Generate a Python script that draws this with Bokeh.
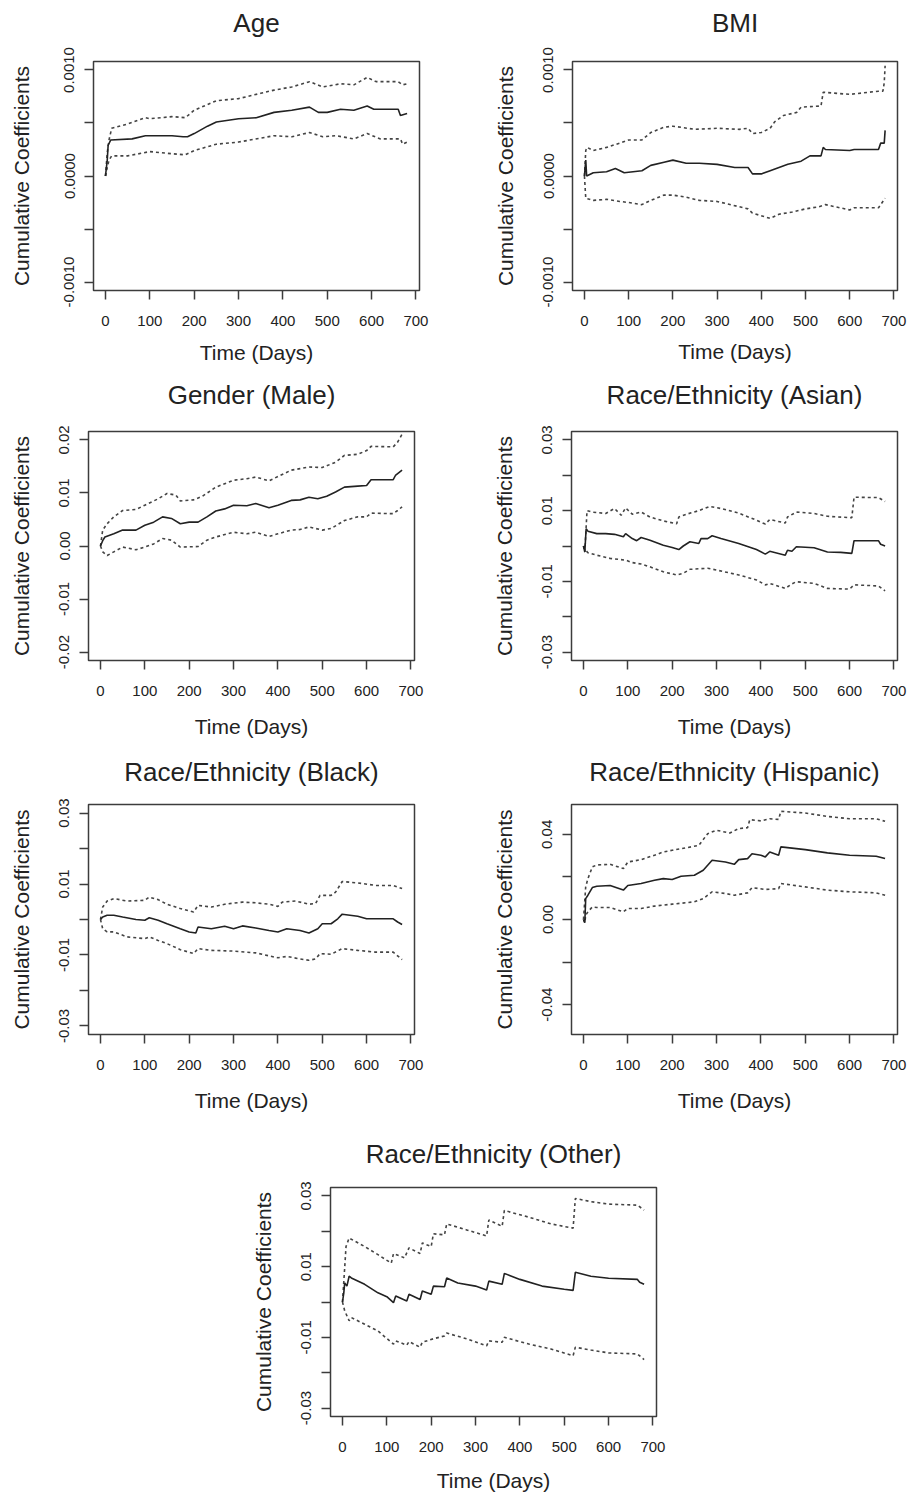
import math
from bokeh.plotting import figure
from bokeh.models import Range1d, FixedTicker, Spacer, LinearAxis
from bokeh.layouts import row, column
from bokeh.embed import file_html
from bokeh.resources import INLINE

FONT = "Liberation Sans"

# ---------------- data (time in days, cumulative coefficient) ----------------
X_TICKS = [0, 100, 200, 300, 400, 500, 600, 700]

AGE_EST = [(0, 0), (4, 0.00015), (6, 0.00029), (12, 0.00034), (60, 0.00035), (90, 0.00038), (150, 0.00038),
           (175, 0.00037), (185, 0.00037), (200, 0.0004), (230, 0.00047), (250, 0.00051), (300, 0.00054),
           (340, 0.00055), (380, 0.0006), (420, 0.00062), (460, 0.00065), (480, 0.0006), (500, 0.0006),
           (530, 0.00063), (560, 0.00062), (590, 0.00066), (605, 0.00063), (660, 0.00063), (665, 0.00057),
           (680, 0.00059)]
AGE_UP = [(0, 0), (4, 0.00022), (8, 0.00034), (14, 0.00045), (50, 0.00049), (90, 0.00055), (100, 0.00054),
          (150, 0.00056), (180, 0.00055), (200, 0.00062), (250, 0.00071), (300, 0.00073), (350, 0.00078),
          (380, 0.00081), (420, 0.00084), (460, 0.00089), (490, 0.00084), (530, 0.00087), (560, 0.00086),
          (590, 0.00093), (610, 0.00089), (660, 0.00089), (670, 0.00086), (680, 0.00087)]
AGE_LO = [(0, 0), (4, 0.00008), (8, 0.00015), (14, 0.00019), (50, 0.00019), (100, 0.00023), (150, 0.00021),
          (180, 0.0002), (200, 0.00024), (250, 0.0003), (300, 0.00032), (380, 0.00038), (420, 0.00037),
          (460, 0.00041), (490, 0.00037), (520, 0.00038), (560, 0.00035), (590, 0.0004), (620, 0.00035),
          (665, 0.00035), (670, 0.0003), (680, 0.00032)]

BMI_EST = [(0, 0), (3, 0.00015), (5, 0.0), (20, 0.00003), (50, 0.00004), (70, 0.00007), (90, 0.00003),
           (110, 0.00004), (130, 0.00005), (150, 0.0001), (180, 0.00013), (200, 0.00015), (230, 0.00012),
           (260, 0.00012), (300, 0.00011), (340, 0.00008), (370, 0.00008), (380, 0.00002), (400, 0.00002),
           (420, 0.00005), (440, 0.00008), (460, 0.00011), (490, 0.00014), (510, 0.00019), (535, 0.00019),
           (540, 0.00027), (545, 0.00025), (600, 0.00024), (610, 0.00025), (665, 0.00025), (670, 0.00031),
           (678, 0.00031), (680, 0.00043)]
BMI_UP = [(0, 0), (3, 0.00024), (6, 0.00027), (20, 0.00024), (50, 0.00027), (80, 0.00031), (100, 0.00034),
          (130, 0.00034), (150, 0.00041), (180, 0.00046), (200, 0.00047), (250, 0.00044), (300, 0.00045),
          (350, 0.00044), (370, 0.00045), (380, 0.0004), (400, 0.00041), (420, 0.00045), (430, 0.00051),
          (450, 0.00057), (480, 0.0006), (490, 0.00065), (535, 0.00066), (540, 0.00079), (600, 0.00077),
          (665, 0.0008), (675, 0.0008), (678, 0.00088), (680, 0.00104)]
BMI_LO = [(0, 0), (3, -0.00021), (20, -0.00023), (50, -0.00022), (80, -0.00024), (100, -0.00025),
          (130, -0.00027), (150, -0.00023), (180, -0.00018), (200, -0.00018), (230, -0.0002), (260, -0.00023),
          (300, -0.00024), (350, -0.00029), (370, -0.00031), (380, -0.00035), (420, -0.0004), (440, -0.00036),
          (470, -0.00034), (500, -0.00031), (530, -0.00029), (545, -0.00027), (600, -0.00032), (610, -0.0003),
          (665, -0.0003), (680, -0.00021)]

MALE_EST = [(0, 0), (5, 0.001), (10, 0.0017), (30, 0.0023), (50, 0.003), (80, 0.003), (100, 0.0039),
            (120, 0.0045), (140, 0.0055), (160, 0.0052), (180, 0.0042), (200, 0.0045), (220, 0.0045),
            (240, 0.0055), (260, 0.0066), (280, 0.007), (300, 0.0077), (330, 0.0076), (350, 0.008),
            (380, 0.0072), (400, 0.0077), (430, 0.0086), (450, 0.0087), (470, 0.0092), (490, 0.0089),
            (510, 0.0094), (530, 0.0102), (550, 0.0111), (580, 0.0113), (600, 0.0114), (610, 0.0125),
            (660, 0.0125), (665, 0.0133), (680, 0.0143)]
MALE_UP = [(0, 0), (5, 0.003), (15, 0.0042), (30, 0.0055), (50, 0.0067), (80, 0.0069), (100, 0.0077),
           (130, 0.0089), (150, 0.0099), (170, 0.0096), (180, 0.0085), (210, 0.0087), (230, 0.0094),
           (260, 0.0111), (300, 0.0124), (330, 0.0127), (350, 0.013), (380, 0.0123), (400, 0.0131),
           (430, 0.0143), (450, 0.0146), (470, 0.0149), (500, 0.0148), (530, 0.0158), (550, 0.0171),
           (580, 0.0173), (600, 0.018), (610, 0.0188), (660, 0.0187), (670, 0.0196), (680, 0.0211)]
MALE_LO = [(0, 0), (5, -0.0011), (15, -0.0018), (30, -0.0011), (50, -0.0002), (80, -0.0007), (100, -0.0002),
           (120, 0.0004), (140, 0.0014), (160, 0.0011), (180, -0.0002), (220, -0.0001), (240, 0.0011),
           (260, 0.0017), (300, 0.0026), (330, 0.0023), (350, 0.0026), (380, 0.0018), (400, 0.0023),
           (430, 0.003), (450, 0.0031), (470, 0.0036), (500, 0.003), (520, 0.0033), (550, 0.0048),
           (580, 0.0055), (600, 0.0055), (610, 0.0062), (660, 0.0061), (670, 0.0067), (680, 0.0074)]

ASIAN_EST = [(0, 0), (3, -0.0017), (6, 0.0049), (10, 0.0042), (30, 0.0035), (50, 0.0035), (70, 0.0033),
             (90, 0.0026), (95, 0.0035), (110, 0.0021), (120, 0.0015), (130, 0.0024), (150, 0.0016),
             (180, 0.0002), (200, -0.0004), (215, -0.001), (225, 0.0), (240, 0.0012), (260, 0.0007),
             (265, 0.0021), (280, 0.0021), (290, 0.0029), (310, 0.0021), (350, 0.0007), (390, -0.001),
             (410, -0.0023), (420, -0.0015), (455, -0.0026), (460, -0.0012), (470, -0.0015), (480, -0.0002),
             (520, -0.0005), (550, -0.0017), (580, -0.0018), (605, -0.0021), (610, 0.0015), (665, 0.0015),
             (670, 0.0005), (680, 0.0)]
ASIAN_UP = [(0, 0), (3, -0.0017), (8, 0.01), (20, 0.0096), (50, 0.0092), (70, 0.0106), (85, 0.0087),
            (95, 0.0108), (110, 0.009), (130, 0.0096), (150, 0.0082), (180, 0.0071), (210, 0.0063),
            (215, 0.0082), (240, 0.0093), (260, 0.01), (285, 0.0112), (310, 0.0106), (350, 0.0093),
            (390, 0.0073), (410, 0.0062), (420, 0.0075), (455, 0.0065), (460, 0.0082), (480, 0.0096),
            (520, 0.0092), (550, 0.0084), (605, 0.008), (610, 0.0138), (665, 0.0137), (680, 0.0126)]
ASIAN_LO = [(0, 0), (5, -0.0012), (10, -0.0019), (30, -0.0026), (60, -0.0035), (95, -0.004), (110, -0.0047),
            (130, -0.0051), (150, -0.0059), (180, -0.0073), (210, -0.0082), (225, -0.0077), (240, -0.0066),
            (280, -0.0063), (300, -0.0068), (350, -0.0082), (390, -0.0096), (410, -0.011), (420, -0.0106),
            (455, -0.012), (470, -0.0107), (480, -0.0101), (520, -0.0106), (550, -0.012), (600, -0.0122),
            (610, -0.011), (665, -0.0113), (680, -0.0127)]

BLACK_EST = [(0, 0), (5, 0.0007), (15, 0.0012), (30, 0.0012), (50, 0.0007), (80, 0.0), (100, -0.0002),
             (110, 0.0005), (130, -0.0002), (150, -0.0012), (180, -0.0026), (200, -0.0035), (215, -0.0038),
             (220, -0.0021), (250, -0.0026), (280, -0.0019), (300, -0.0026), (320, -0.0018), (350, -0.0024),
             (380, -0.0031), (400, -0.0035), (420, -0.0026), (450, -0.0031), (470, -0.0038), (490, -0.0026),
             (500, -0.0012), (520, -0.0012), (535, 0.0002), (545, 0.0015), (580, 0.0009), (600, 0.0002),
             (660, 0.0002), (670, -0.0007), (680, -0.0014)]
BLACK_UP = [(0, 0), (5, 0.0035), (15, 0.0052), (30, 0.0059), (60, 0.0052), (100, 0.0054), (110, 0.0063),
            (130, 0.0056), (150, 0.0043), (180, 0.0031), (210, 0.0021), (220, 0.004), (250, 0.0035),
            (280, 0.0043), (320, 0.0049), (350, 0.0047), (380, 0.0043), (400, 0.0037), (410, 0.0049),
            (440, 0.0052), (470, 0.0043), (485, 0.0045), (495, 0.0068), (520, 0.0068), (530, 0.0077),
            (545, 0.0107), (580, 0.0103), (620, 0.0096), (660, 0.0096), (680, 0.0087)]
BLACK_LO = [(0, 0), (5, -0.0026), (15, -0.0035), (30, -0.0035), (60, -0.0049), (100, -0.0054),
            (110, -0.0049), (130, -0.0059), (150, -0.0068), (180, -0.0085), (210, -0.0096), (220, -0.0082),
            (250, -0.0087), (300, -0.0089), (350, -0.0094), (400, -0.0108), (420, -0.0104), (450, -0.0111),
            (470, -0.0115), (485, -0.0111), (495, -0.0096), (520, -0.0098), (545, -0.0082), (580, -0.0087),
            (620, -0.0092), (660, -0.0092), (680, -0.0113)]

HISP_EST = [(0, 0), (3, -0.0015), (5, 0.0098), (10, 0.0114), (20, 0.015), (30, 0.0156), (60, 0.016),
            (90, 0.0138), (100, 0.016), (130, 0.0169), (160, 0.0184), (180, 0.0192), (200, 0.0188),
            (220, 0.0203), (250, 0.0208), (270, 0.0231), (290, 0.0278), (320, 0.027), (340, 0.0259),
            (350, 0.0281), (370, 0.0286), (380, 0.0309), (400, 0.0302), (410, 0.0294), (420, 0.0317),
            (440, 0.0302), (445, 0.0341), (500, 0.0328), (550, 0.0313), (600, 0.0302), (660, 0.0297),
            (680, 0.0286)]
HISP_UP = [(0, 0), (5, 0.0153), (10, 0.0192), (20, 0.0247), (30, 0.0256), (60, 0.0259), (90, 0.0239),
           (100, 0.027), (130, 0.0281), (160, 0.0302), (180, 0.0317), (200, 0.0325), (230, 0.0336),
           (260, 0.0348), (280, 0.0403), (300, 0.0419), (330, 0.0406), (350, 0.0427), (370, 0.0431),
           (375, 0.0469), (400, 0.0463), (420, 0.0473), (440, 0.047), (445, 0.0508), (500, 0.05),
           (550, 0.0484), (600, 0.0473), (660, 0.0473), (680, 0.0461)]
HISP_LO = [(0, 0), (3, -0.0015), (5, 0.002), (10, 0.0036), (20, 0.0059), (30, 0.0056), (60, 0.0056),
           (90, 0.0036), (100, 0.0052), (130, 0.0052), (160, 0.0063), (200, 0.0072), (250, 0.0083),
           (270, 0.0098), (290, 0.013), (320, 0.0122), (340, 0.0114), (370, 0.0125), (380, 0.015),
           (410, 0.0141), (440, 0.0145), (445, 0.0169), (500, 0.0153), (550, 0.0138), (600, 0.013),
           (660, 0.0125), (680, 0.0114)]

OTHER_EST = [(0, 0), (3, 0.0026), (5, 0.0054), (10, 0.0045), (15, 0.0073), (20, 0.0068), (50, 0.005),
             (80, 0.0026), (100, 0.0015), (115, -0.0002), (120, 0.0017), (145, 0.0003), (150, 0.0022),
             (175, 0.0007), (180, 0.0031), (200, 0.0022), (205, 0.0045), (230, 0.0043), (235, 0.0068),
             (260, 0.0054), (300, 0.0045), (325, 0.0034), (330, 0.0059), (360, 0.005), (365, 0.0081),
             (400, 0.0064), (450, 0.0045), (500, 0.0036), (520, 0.0033), (525, 0.0084), (560, 0.0073),
             (600, 0.0067), (665, 0.0064), (670, 0.0056), (680, 0.005)]
OTHER_UP = [(0, 0), (5, 0.0097), (8, 0.0157), (15, 0.0181), (50, 0.0157), (80, 0.0134), (110, 0.011),
            (115, 0.0137), (140, 0.0125), (150, 0.0153), (175, 0.0137), (180, 0.0167), (200, 0.0157),
            (205, 0.0193), (230, 0.019), (235, 0.0221), (280, 0.0204), (325, 0.0187), (330, 0.0232),
            (360, 0.0214), (365, 0.0259), (420, 0.024), (470, 0.0221), (520, 0.0209), (525, 0.0293),
            (560, 0.0284), (600, 0.0277), (665, 0.0274), (680, 0.026)]
OTHER_LO = [(0, 0), (5, -0.0025), (10, -0.0039), (15, -0.0053), (20, -0.0044), (50, -0.0063), (80, -0.0082),
            (110, -0.0114), (115, -0.0119), (120, -0.011), (145, -0.0122), (150, -0.0112), (175, -0.0128),
            (180, -0.0114), (205, -0.0104), (230, -0.0096), (235, -0.0088), (280, -0.0104), (325, -0.0124),
            (330, -0.011), (360, -0.0114), (365, -0.01), (420, -0.0119), (470, -0.0133), (520, -0.0152),
            (525, -0.0128), (560, -0.0136), (600, -0.0144), (665, -0.0147), (680, -0.0163)]

# y-axis ticks and their labels (R skips overlapping labels)
TICKS_0010 = [-0.001, -0.0005, 0.0, 0.0005, 0.001]
LABELS_0010 = ["-0.0010", "", "0.0000", "", "0.0010"]
TICKS_02 = [-0.02, -0.01, 0.0, 0.01, 0.02]
LABELS_02 = ["-0.02", "-0.01", "0.00", "0.01", "0.02"]
TICKS_03 = [-0.03, -0.02, -0.01, 0.0, 0.01, 0.02, 0.03]
LABELS_03 = ["-0.03", "", "-0.01", "", "0.01", "", "0.03"]
TICKS_04 = [-0.04, -0.02, 0.0, 0.02, 0.04]
LABELS_04 = ["-0.04", "", "0.00", "", "0.04"]

INK = "#222222"
BOX = "#3c3c3c"


def style_axis(ax):
    ax.axis_line_color = None
    ax.major_tick_line_color = BOX
    ax.major_tick_line_width = 1.5
    ax.major_tick_out = 9
    ax.major_tick_in = 0
    ax.minor_tick_line_color = None
    ax.major_label_text_font = FONT
    ax.major_label_text_font_size = "15px"
    ax.major_label_text_color = INK
    ax.axis_label_text_font = FONT
    ax.axis_label_text_font_size = "21px"
    ax.axis_label_text_font_style = "normal"
    ax.axis_label_text_color = INK


def panel(title, est, up, lo, ylim, yticks, ylabels, width, height,
          left, right, top, bottom, title_gap, xlab_standoff=16, ylab_standoff=24):
    p = figure(width=width, height=height, output_backend="svg", toolbar_location=None,
               x_range=Range1d(-27, 708), y_range=Range1d(-ylim * 1.08, ylim * 1.08),
               min_border_left=left, min_border_right=right,
               min_border_top=top, min_border_bottom=bottom, title=None)
    p.background_fill_color = "white"
    p.border_fill_color = "white"
    p.grid.visible = False
    p.outline_line_color = BOX
    p.outline_line_width = 1.5

    xa = p.below[0]
    ya = p.left[0]
    style_axis(xa)
    style_axis(ya)

    xa.ticker = FixedTicker(ticks=X_TICKS)
    xa.axis_label = "Time (Days)"
    xa.major_label_standoff = 16
    xa.axis_label_standoff = xlab_standoff

    ya.ticker = FixedTicker(ticks=yticks)
    ya.major_label_overrides = {t: l for t, l in zip(yticks, ylabels)}
    ya.major_label_orientation = "vertical"
    ya.axis_label = "Cumulative Coefficients"
    ya.major_label_standoff = 10
    ya.axis_label_standoff = ylab_standoff

    # panel title: label of a tick-less axis above the frame
    top_ax = LinearAxis(ticker=FixedTicker(ticks=[0]), major_label_overrides={0: ""},
                        axis_line_color=None, major_tick_line_color=None, minor_tick_line_color=None,
                        major_tick_out=0, major_tick_in=0, minor_tick_out=0, minor_tick_in=0,
                        major_label_standoff=0, major_label_text_font_size="1px",
                        axis_label=title, axis_label_standoff=title_gap,
                        axis_label_text_font=FONT, axis_label_text_font_size="26px",
                        axis_label_text_font_style="normal", axis_label_text_color=INK)
    p.add_layout(top_ax, "above")

    for series, dash, color in ((up, "3 3", "#444444"), (lo, "3 3", "#444444"), (est, "solid", INK)):
        xs = [t for t, _ in series]
        ys = [v for _, v in series]
        p.line(xs, ys, line_color=color, line_width=1.6, line_dash=dash)
    return p


W = 454
f1 = panel("Age", AGE_EST, AGE_UP, AGE_LO, 0.001, TICKS_0010, LABELS_0010, W, 372, 93, 35, 61, 82, 24,
           xlab_standoff=12, ylab_standoff=29)
f2 = panel("BMI", BMI_EST, BMI_UP, BMI_LO, 0.001, TICKS_0010, LABELS_0010, W, 372, 118, 11, 61, 82, 24,
           xlab_standoff=11)
f3 = panel("Gender (Male)", MALE_EST, MALE_UP, MALE_LO, 0.02, TICKS_02, LABELS_02,
           W, 373, 88, 40, 59, 85, 22)
f4 = panel("Race/Ethnicity (Asian)", ASIAN_EST, ASIAN_UP, ASIAN_LO, 0.03, TICKS_03, LABELS_03,
           W, 373, 117, 11, 59, 85, 22)
f5 = panel("Race/Ethnicity (Black)", BLACK_EST, BLACK_UP, BLACK_LO, 0.03, TICKS_03, LABELS_03,
           W, 375, 88, 40, 59, 86, 18)
f6 = panel("Race/Ethnicity (Hispanic)", HISP_EST, HISP_UP, HISP_LO, 0.05, TICKS_04, LABELS_04,
           W, 375, 117, 11, 59, 86, 18)
f7 = panel("Race/Ethnicity (Other)", OTHER_EST, OTHER_UP, OTHER_LO, 0.03, TICKS_03, LABELS_03,
           W, 374, 93, 35, 67, 77, 19, xlab_standoff=14)

layout = column(row(f1, f2), row(f3, f4), row(f5, f6),
                row(Spacer(width=237, height=374), f7))

open("out.html", "w").write(file_html(layout, INLINE, "Cumulative coefficients"))
